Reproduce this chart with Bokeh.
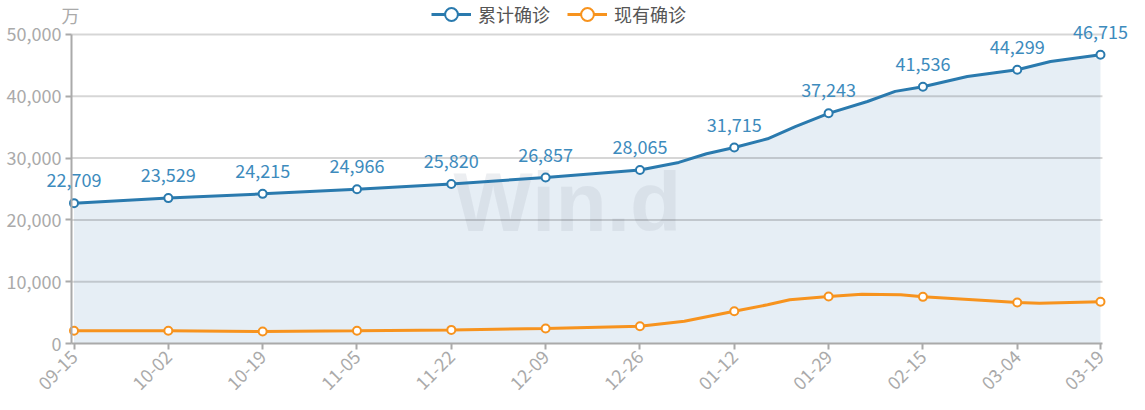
import math
from bokeh.plotting import figure
from bokeh.models import (Range1d, FixedTicker, NumeralTickFormatter, Legend,
                          LegendItem, Label, ColumnDataSource, LabelSet)
from bokeh.core.properties import value
from bokeh.embed import file_html
from bokeh.resources import INLINE

# ---- data (万) ----
tick_days = [0, 17, 34, 51, 68, 85, 102, 119, 136, 153, 170, 185]
tick_labels = ["09-15", "10-02", "10-19", "11-05", "11-22", "12-09",
               "12-26", "01-12", "01-29", "02-15", "03-04", "03-19"]
cum_key = [22709, 23529, 24215, 24966, 25820, 26857,
           28065, 31715, 37243, 41536, 44299, 46715]
cur_key = [2050, 2050, 1950, 2050, 2200, 2430,
           2800, 5230, 7600, 7550, 6630, 6750]

cum_days = [0, 17, 34, 51, 68, 85, 102, 109, 114, 119, 125, 130, 136,
            143, 148, 153, 161, 170, 176, 185]
cum_vals = [22709, 23529, 24215, 24966, 25820, 26857, 28065, 29300, 30700,
            31715, 33120, 35110, 37243, 39160, 40800, 41536, 43200, 44299,
            45630, 46715]
cur_days = [0, 17, 34, 51, 68, 85, 102, 110, 119, 125, 129, 136, 142, 149,
            153, 165, 170, 174, 185]
cur_vals = [2050, 2050, 1950, 2050, 2200, 2430, 2800, 3600, 5230, 6260, 7070,
            7600, 7980, 7880, 7550, 6900, 6630, 6520, 6750]
y_ticks = [0, 10000, 20000, 30000, 40000, 50000]

BLUE = "#2a7aae"
BLUE_LBL = "#3d8bbd"
ORANGE = "#f7931e"
GRAY = "#aaaaaa"
FONT = "Noto Sans CJK SC"

X0, X1 = -0.4506, 185.36   # axis extent (days)

p = figure(width=1129, height=394, output_backend="svg", toolbar_location=None,
           x_range=Range1d(-13.247, 190.23), y_range=Range1d(-8252.4, 55501.6),
           min_border=0)
p.title.visible = False
p.outline_line_color = None
p.background_fill_color = "white"
p.xgrid.visible = False
p.ygrid.visible = False

# area under cumulative line
area = p.varea(x=cum_days, y1=[0] * len(cum_days), y2=cum_vals,
               fill_color="#e6eef5")
area.level = "image"

# watermark
wm = p.text(x=[88.94], y=[22816], text=["Win.d"], text_font=value("Liberation Sans"),
            text_font_style="bold", text_font_size="84px", text_color="#b4bec8",
            text_alpha=0.26, text_align="center", text_baseline="middle")
wm.level = "image"

# horizontal grid lines
gy = y_ticks[1:]
grid = p.segment(x0=[X0] * len(gy), x1=[X1] * len(gy), y0=gy, y1=gy,
                 line_color="#000000", line_alpha=0.16, line_width=2)
grid.level = "underlay"

# lines
l1 = p.line(cum_days, cum_vals, line_color=BLUE, line_width=3)
l2 = p.line(cur_days, cur_vals, line_color=ORANGE, line_width=3)
s1 = p.scatter(tick_days, cum_key, size=8, fill_color="white", line_color=BLUE,
               line_width=2)
s2 = p.scatter(tick_days, cur_key, size=8, fill_color="white", line_color=ORANGE,
               line_width=2)

# data labels
src = ColumnDataSource(dict(x=tick_days, y=cum_key, t=[f"{v:,}" for v in cum_key]))
p.add_layout(LabelSet(x="x", y="y", text="t", source=src, y_offset=23,
                      text_align="center", text_baseline="middle",
                      text_font=value(FONT), text_font_size="18px",
                      text_color=BLUE_LBL))

# axes (drawn at fixed positions inside the full-canvas frame)
xa = p.xaxis[0]
ya = p.yaxis[0]
xa.fixed_location = 0
ya.fixed_location = X0
xa.bounds = (X0, X1)
ya.bounds = (0, 50000)
xa.ticker = FixedTicker(ticks=tick_days)
xa.major_label_overrides = {d: l for d, l in zip(tick_days, tick_labels)}
xa.major_label_orientation = math.pi / 4
ya.ticker = FixedTicker(ticks=y_ticks)
ya.formatter = NumeralTickFormatter(format="0,0")
for ax in (xa, ya):
    ax.axis_line_color = GRAY
    ax.axis_line_width = 2
    ax.major_tick_line_color = GRAY
    ax.major_tick_line_width = 2
    ax.major_tick_in = 0
    ax.major_tick_out = 6
    ax.minor_tick_line_color = None
    ax.major_label_text_color = GRAY
    ax.major_label_text_font = FONT
    ax.major_label_text_font_size = "18px"
    ax.major_label_standoff = 4

# unit label
p.add_layout(Label(x=-0.63, y=53236, text="万", text_align="center",
                   text_baseline="middle", text_font=FONT,
                   text_font_size="18px", text_color=GRAY))

# legend
legend = Legend(items=[LegendItem(label="累计确诊", renderers=[l1, s1]),
                       LegendItem(label="现有确诊", renderers=[l2, s2])],
                orientation="horizontal", location=(431, 364),
                glyph_width=40, glyph_height=32, label_standoff=7, spacing=17,
                padding=0, margin=0, border_line_color=None,
                background_fill_alpha=0, label_text_font=FONT,
                label_text_font_size="18px", label_text_color="#555555")
p.add_layout(legend)

open("out.html", "w").write(file_html(p, INLINE))
